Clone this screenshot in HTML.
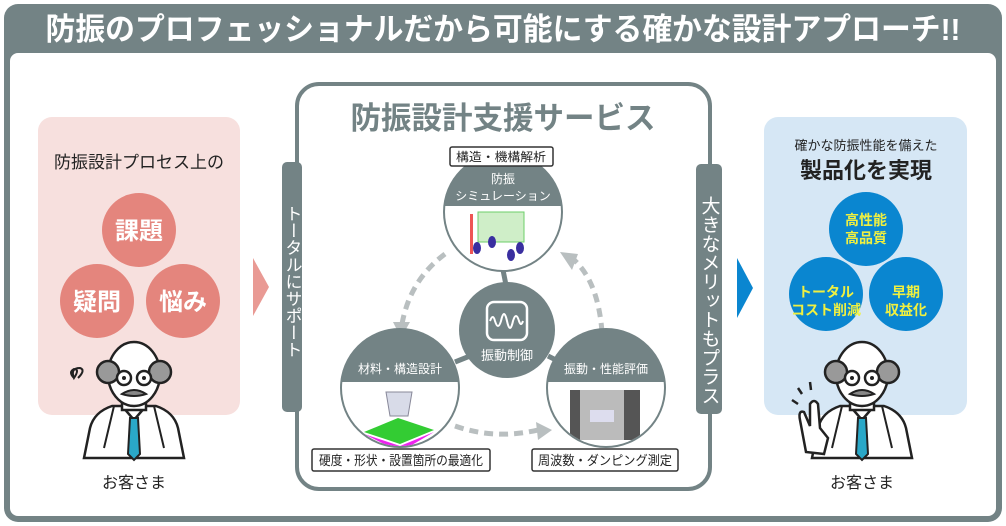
<!DOCTYPE html>
<html><head><meta charset="utf-8"><style>
html,body{margin:0;padding:0;background:#fff}
svg{display:block}
text{font-family:"Liberation Sans","Noto Sans CJK JP",sans-serif}
</style></head><body>
<svg width="1006" height="526" viewBox="0 0 1006 526" xmlns="http://www.w3.org/2000/svg">
<defs>
<clipPath id="cT"><circle cx="503" cy="212" r="58"/></clipPath>
<clipPath id="cL"><circle cx="400" cy="388" r="58"/></clipPath>
<clipPath id="cR"><circle cx="606" cy="388" r="58"/></clipPath>
<g id="man">
 <path d="M-50 70 L-44 40 Q-40 24 -22 18 L22 18 Q40 24 44 40 L50 70 Z" fill="#fff" stroke="#222" stroke-width="2.5"/>
 <path d="M-12 18 L0 32 L12 18" fill="none" stroke="#222" stroke-width="2.5"/>
 <path d="M-4 30 L4 30 L6 66 L0 72 L-6 66 Z" fill="#2aa8c8" stroke="#222" stroke-width="2"/>
 <path d="M-20 18 L-30 60 M20 18 L30 60" stroke="#222" stroke-width="2"/>
 <rect x="-12" y="6" width="24" height="16" fill="#fff" stroke="#222" stroke-width="2.5"/>
 <ellipse cx="0" cy="-14" rx="26" ry="32" fill="#fff" stroke="#222" stroke-width="2.5"/>
 <circle cx="-26" cy="-16" r="11" fill="#999" stroke="#222" stroke-width="2.5"/>
 <circle cx="26" cy="-16" r="11" fill="#999" stroke="#222" stroke-width="2.5"/>
 <circle cx="-10" cy="-10" r="7" fill="#fff" stroke="#222" stroke-width="2.5"/>
 <circle cx="10" cy="-10" r="7" fill="#fff" stroke="#222" stroke-width="2.5"/>
 <circle cx="-10" cy="-10" r="2" fill="#222"/><circle cx="10" cy="-10" r="2" fill="#222"/>
 <path d="M-12 6 Q0 -2 12 6 Q0 10 -12 6 Z" fill="#888" stroke="#222" stroke-width="2"/>
</g>
</defs>
<rect x="4" y="4" width="998" height="518" rx="14" fill="#738385"/>
<rect x="10" y="53" width="986" height="463" rx="8" fill="#fff"/>
<text x="503" y="40" text-anchor="middle" font-size="31" font-weight="bold" fill="#fff" textLength="915" lengthAdjust="spacingAndGlyphs">防振のプロフェッショナルだから可能にする確かな設計アプローチ!!</text>

<rect x="38" y="117" width="202" height="298" rx="14" fill="#f7e0de"/>
<text x="139" y="168" text-anchor="middle" font-size="17" fill="#222">防振設計プロセス上の</text>
<g fill="#e4857d"><circle cx="139" cy="230" r="37"/><circle cx="97" cy="301" r="37"/><circle cx="183" cy="301" r="37"/></g>
<g font-size="24" font-weight="bold" fill="#fff" text-anchor="middle"><text x="139" y="239">課題</text><text x="97" y="310">疑問</text><text x="183" y="310">悩み</text></g>
<use href="#man" transform="translate(134,388)"/>
<path d="M74 378 q-6 -6 0 -9 q6 0 0 9 q-4 -10 6 -10 q6 2 -2 10" fill="none" stroke="#222" stroke-width="2"/>
<text x="134" y="488" text-anchor="middle" font-size="16" fill="#222">お客さま</text>
<polygon points="253,258 269,287 253,316" fill="#e99a94"/>

<rect x="297" y="84" width="413" height="405" rx="22" fill="none" stroke="#738385" stroke-width="4"/>
<rect x="282" y="162" width="20" height="250" rx="5" fill="#738385"/>
<text x="292" y="205" font-size="17" fill="#fff" style="writing-mode:vertical-rl">トータルにサポート</text>
<rect x="696" y="164" width="26" height="250" rx="5" fill="#738385"/>
<text x="709" y="196" font-size="19" fill="#fff" style="writing-mode:vertical-rl">大きなメリットもプラス</text>
<text x="503" y="129" text-anchor="middle" font-size="31" font-weight="bold" fill="#738385" textLength="305" lengthAdjust="spacingAndGlyphs">防振設計支援サービス</text>

<g fill="none" stroke="#b9bfc0" stroke-width="5" stroke-dasharray="9,6">
<path d="M445 254 Q410 280 402 324"/>
<path d="M602 332 Q598 280 572 258"/>
<path d="M455 426 Q495 440 538 430"/>
</g>
<g fill="#b9bfc0">
<polygon points="393,322 410,322 401,338"/>
<polygon points="560,252 578,254 572,270"/>
<polygon points="536,422 552,430 538,440"/>
</g>
<g stroke="#738385" stroke-width="5"><line x1="503" y1="270" x2="507" y2="290"/><line x1="455" y1="362" x2="470" y2="356"/><line x1="548" y1="356" x2="560" y2="362"/></g>
<circle cx="507" cy="330" r="48" fill="#738385"/>
<rect x="487" y="302" width="40" height="38" rx="7" fill="none" stroke="#fff" stroke-width="2.5"/>
<path d="M490 321 q3 -8 5 0 q3 10 6 0 q3 -14 6 0 q3 14 6 0 q3 -10 6 0 q2 6 4 0" fill="none" stroke="#fff" stroke-width="2"/>
<text x="507" y="360" text-anchor="middle" font-size="13" fill="#fff">振動制御</text>

<circle cx="503" cy="212" r="60" fill="#738385"/>
<g clip-path="url(#cT)"><rect x="440" y="206" width="130" height="70" fill="#fff"/>
<rect x="478" y="212" width="46" height="30" fill="#cfeec8" stroke="#6ccf6a"/>
<rect x="470" y="214" width="3" height="40" fill="#e55"/>
<g fill="#3a2fa0"><ellipse cx="477" cy="248" rx="4" ry="6"/><ellipse cx="492" cy="242" rx="4" ry="6"/><ellipse cx="511" cy="255" rx="4" ry="6"/><ellipse cx="520" cy="248" rx="4" ry="6"/></g></g>
<text x="503" y="183" text-anchor="middle" font-size="12" fill="#fff">防振</text>
<text x="503" y="200" text-anchor="middle" font-size="12" fill="#fff">シミュレーション</text>
<rect x="450" y="147" width="103" height="19" rx="2" fill="#fff" stroke="#333" stroke-width="1.5"/>
<text x="501" y="161" text-anchor="middle" font-size="12" fill="#222" textLength="90" lengthAdjust="spacingAndGlyphs">構造・機構解析</text>

<circle cx="400" cy="388" r="60" fill="#738385"/>
<g clip-path="url(#cL)"><rect x="336" y="382" width="130" height="70" fill="#fff"/>
<path d="M386 392 h26 l-4 24 h-18 z" fill="#d8dbe8" stroke="#889"/>
<polygon points="364,432 398,418 434,430 400,444" fill="#3c3"/><polygon points="364,434 400,446 434,432 400,452" fill="#e2e"/></g>
<text x="400" y="373" text-anchor="middle" font-size="12" fill="#fff">材料・構造設計</text>
<rect x="312" y="449" width="178" height="22" rx="2" fill="#fff" stroke="#333" stroke-width="1.5"/>
<text x="401" y="465" text-anchor="middle" font-size="13" fill="#222" textLength="164" lengthAdjust="spacingAndGlyphs">硬度・形状・設置箇所の最適化</text>

<circle cx="606" cy="388" r="60" fill="#738385"/>
<g clip-path="url(#cR)"><rect x="540" y="382" width="130" height="70" fill="#fff"/>
<rect x="570" y="390" width="70" height="50" fill="#555"/><rect x="580" y="390" width="44" height="50" fill="#bbb"/><rect x="590" y="410" width="24" height="12" fill="#dde"/></g>
<text x="606" y="373" text-anchor="middle" font-size="12" fill="#fff">振動・性能評価</text>
<rect x="532" y="449" width="146" height="22" rx="2" fill="#fff" stroke="#333" stroke-width="1.5"/>
<text x="605" y="465" text-anchor="middle" font-size="13" fill="#222" textLength="134" lengthAdjust="spacingAndGlyphs">周波数・ダンピング測定</text>

<polygon points="737,258 753,288 737,318" fill="#0a86d0"/>
<rect x="764" y="117" width="203" height="298" rx="14" fill="#d6e7f5"/>
<text x="866" y="150" text-anchor="middle" font-size="13" fill="#222">確かな防振性能を備えた</text>
<text x="866" y="178" text-anchor="middle" font-size="22" font-weight="bold" fill="#222">製品化を実現</text>
<g fill="#0a86d0"><circle cx="866" cy="229" r="37"/><circle cx="826" cy="294" r="37"/><circle cx="906" cy="294" r="37"/></g>
<g font-size="14" font-weight="bold" fill="#f0f040" text-anchor="middle">
<text x="866" y="225">高性能</text><text x="866" y="243">高品質</text>
<text x="826" y="297">トータル</text><text x="826" y="315">コスト削減</text>
<text x="906" y="297">早期</text><text x="906" y="315">収益化</text></g>
<use href="#man" transform="translate(862,388)"/>
<path d="M806 452 L800 420 q-2 -10 4 -8 l6 14 l0 -22 q4 -6 8 0 l2 24 l8 10 l-4 16 z" fill="#fff" stroke="#222" stroke-width="2.5"/>
<path d="M792 400 l6 4 M798 388 l4 6 M810 382 l1 8" stroke="#222" stroke-width="2.5"/>
<text x="862" y="488" text-anchor="middle" font-size="16" fill="#222">お客さま</text>
</svg>
</body></html>
